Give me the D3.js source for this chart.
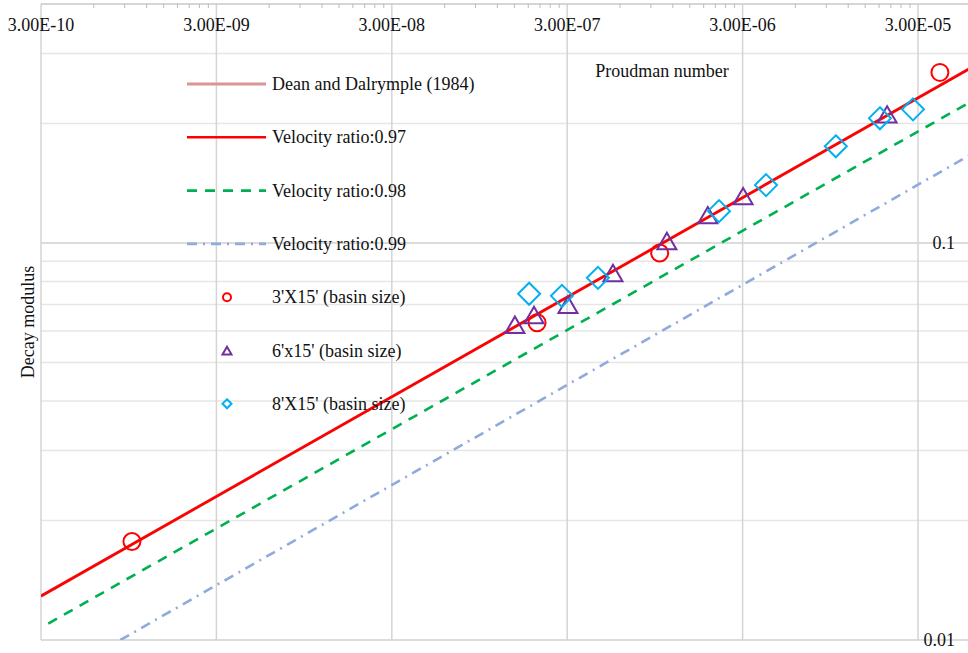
<!DOCTYPE html>
<html><head><meta charset="utf-8">
<script src="https://cdn.jsdelivr.net/npm/d3@7"></script>
<style>body{margin:0;background:#fff}svg{display:block}text{font-family:"Liberation Serif","Times New Roman",serif;fill:#111}</style>
</head><body><svg id="c" width="968" height="653"></svg>
<script>
// ---- data ----
const xTickValues = [3e-10, 3e-9, 3e-8, 3e-7, 3e-6, 3e-5];
const xTickLabels = ["3.00E-10","3.00E-09","3.00E-08","3.00E-07","3.00E-06","3.00E-05"];
const yTickValues = [0.1, 0.01];
const yTickLabels = ["0.1","0.01"];
// lines (power law, straight on log-log): endpoints [Proudman, decay modulus]
const deanLine = [[3e-10, 0.0129],[6e-5, 0.276]];
const vr097 = [[3e-10, 0.0129],[6e-5, 0.276]];
const vr098 = [[3.3e-10, 0.0110],[6e-5, 0.227]];
const vr099 = [[8.5e-10, 0.0100],[6e-5, 0.167]];
// experiments
const basin3x15_P = [9.9e-10, 2.02e-7, 1.01e-6, 4.0e-5];
const basin3x15_D = [0.0177, 0.0630, 0.0944, 0.269];
const basin6x15_P = [1.51e-7, 1.94e-7, 3.03e-7, 5.47e-7, 1.11e-6, 1.90e-6, 3.02e-6, 2.0e-5];
const basin6x15_D = [0.0619, 0.0655, 0.0695, 0.0836, 0.1006, 0.1169, 0.1305, 0.2097];
const basin8x15_P = [1.82e-7, 2.80e-7, 4.49e-7, 2.20e-6, 4.08e-6, 1.02e-5, 1.82e-5, 2.81e-5];
const basin8x15_D = [0.0745, 0.0736, 0.0817, 0.1203, 0.1399, 0.1752, 0.2061, 0.2171];
const legendLabels = ["Dean and Dalrymple (1984)","Velocity ratio:0.97","Velocity ratio:0.98","Velocity ratio:0.99","3'X15' (basin size)","6'x15' (basin size)","8'X15' (basin size)"];

// ---- layout ----
const svg = d3.select("#c");
const L = 41, T = 4, R = 968, B = 640;
const FS = 18;
const x = d3.scaleLog().domain([3e-10, 3e-5]).range([41, 918]);
const y = d3.scaleLog().domain([0.01, 0.4]).range([B, T]);

svg.append("clipPath").attr("id","clip").append("rect").attr("x",L).attr("y",T).attr("width",R-L).attr("height",B-T);

// horizontal gridlines (minor + major)
const yGrid = [0.02,0.03,0.04,0.05,0.06,0.07,0.08,0.09,0.2,0.3];
svg.append("g").selectAll("line").data(yGrid).join("line")
  .attr("x1",L).attr("x2",R).attr("y1",d=>y(d)).attr("y2",d=>y(d))
  .attr("stroke","#e6e6e6").attr("stroke-width",1.5);
svg.append("g").selectAll("line").data(yTickValues).join("line")
  .attr("x1",L).attr("x2",R).attr("y1",d=>y(d)).attr("y2",d=>y(d))
  .attr("stroke","#d0d0d0").attr("stroke-width",1.5);
// vertical gridlines
svg.append("g").selectAll("line").data(xTickValues).join("line")
  .attr("x1",d=>x(d)).attr("x2",d=>x(d)).attr("y1",T).attr("y2",B)
  .attr("stroke","#d4d4d4").attr("stroke-width",1.5);
// top axis line
svg.append("line").attr("x1",L).attr("x2",R).attr("y1",T).attr("y2",T).attr("stroke","#c8c8c8").attr("stroke-width",1.5);
// minor ticks on top axis
const minor = [];
for (let d=0; d<6; d++) for (let k=2;k<=9;k++){ const v = 3e-10*Math.pow(10,d)*k; if (x(v) < R) minor.push(v); }
svg.append("g").selectAll("line").data(minor).join("line")
  .attr("x1",d=>x(d)).attr("x2",d=>x(d)).attr("y1",T).attr("y2",T+4)
  .attr("stroke","#bbb").attr("stroke-width",1);

// x tick labels
svg.append("g").selectAll("text").data(xTickValues).join("text")
  .attr("x",d=>x(d)).attr("y",31).attr("text-anchor","middle").attr("font-size",FS)
  .text((d,i)=>xTickLabels[i]);
// y tick labels
svg.append("g").selectAll("text").data(yTickValues).join("text")
  .attr("x",955).attr("y",d=>y(d)+6).attr("text-anchor","end").attr("font-size",FS)
  .text((d,i)=>yTickLabels[i]);

// axis titles
svg.append("text").attr("x",662).attr("y",77).attr("text-anchor","middle").attr("font-size",FS).text("Proudman number");
svg.append("text").attr("transform","translate(34,322) rotate(-90)").attr("text-anchor","middle").attr("font-size",FS).text("Decay modulus");

// lines
const line = d3.line().x(d=>x(d[0])).y(d=>y(d[1]));
const gl = svg.append("g").attr("clip-path","url(#clip)");
const lineStyles = [
  {data:deanLine, color:"#d99694", dash:null, w:3},
  {data:vr097, color:"#ff0000", dash:null, w:2.6},
  {data:vr098, color:"#00b050", dash:"10,8", w:2.6},
  {data:vr099, color:"#8faadc", dash:"10,6,2,6", w:2.6}
];
lineStyles.forEach(s=>{
  gl.append("path").attr("d",line(s.data)).attr("fill","none").attr("stroke",s.color)
    .attr("stroke-width",s.w).attr("stroke-dasharray",s.dash);
});

// markers
function tri(s){ const h=s*0.866; return `M0,${-h*0.62}L${s/2},${h*0.38}L${-s/2},${h*0.38}Z`; }
function dia(s){ return `M0,${-s}L${s},0L0,${s}L${-s},0Z`; }
const gm = svg.append("g");
gm.selectAll("circle.c3").data(basin3x15_P).join("circle")
  .attr("cx",d=>x(d)).attr("cy",(d,i)=>y(basin3x15_D[i])).attr("r",8.5)
  .attr("fill","none").attr("stroke","#ff0000").attr("stroke-width",2);
gm.selectAll("path.t6").data(basin6x15_P).join("path")
  .attr("transform",(d,i)=>`translate(${x(d)},${y(basin6x15_D[i])+1})`).attr("d",tri(19))
  .attr("fill","none").attr("stroke","#7030a0").attr("stroke-width",2);
gm.selectAll("path.d8").data(basin8x15_P).join("path")
  .attr("transform",(d,i)=>`translate(${x(d)},${y(basin8x15_D[i])})`).attr("d",dia(11))
  .attr("fill","none").attr("stroke","#00b0f0").attr("stroke-width",2);

// legend
const lg = svg.append("g");
const ly0 = 84, lstep = 53.3;
lineStyles.forEach((s,i)=>{
  lg.append("line").attr("x1",187).attr("x2",266).attr("y1",ly0+i*lstep).attr("y2",ly0+i*lstep)
    .attr("stroke",s.color).attr("stroke-width",s.w).attr("stroke-dasharray",s.dash);
});
const my = i=>ly0+i*lstep;
lg.append("circle").attr("cx",227).attr("cy",my(4)).attr("r",4).attr("fill","none").attr("stroke","#ff0000").attr("stroke-width",2);
lg.append("path").attr("transform",`translate(227,${my(5)+1})`).attr("d",tri(9)).attr("fill","none").attr("stroke","#7030a0").attr("stroke-width",2);
lg.append("path").attr("transform",`translate(227,${my(6)})`).attr("d",dia(4.5)).attr("fill","none").attr("stroke","#00b0f0").attr("stroke-width",2);
lg.selectAll("text").data(legendLabels).join("text")
  .attr("x",272).attr("y",(d,i)=>my(i)+6).attr("font-size",FS).text(d=>d);
</script></body></html>
